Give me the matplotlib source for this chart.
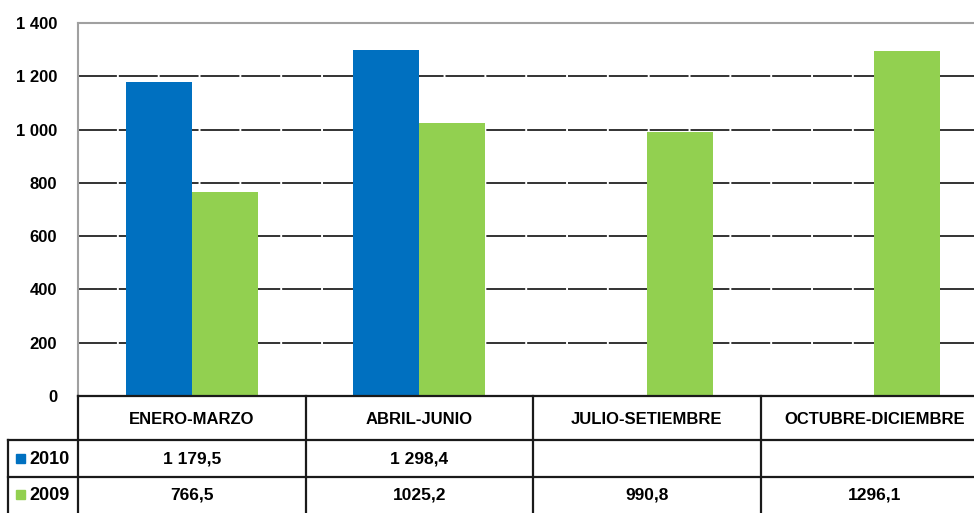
import numpy as np
import matplotlib
matplotlib.use("Agg")
import matplotlib.pyplot as plt
from matplotlib.transforms import blended_transform_factory
from matplotlib.ticker import FuncFormatter

plt.rcParams['font.family'] = ['Liberation Sans', 'DejaVu Sans']
plt.rcParams['font.weight'] = 'bold'

# data
trimestres = ['ENERO-MARZO', 'ABRIL-JUNIO', 'JULIO-SETIEMBRE', 'OCTUBRE-DICIEMBRE']
series = ['2010', '2009']
v2010 = [1179.5, 1298.4, None, None]
v2009 = [766.5, 1025.2, 990.8, 1296.1]
etiq2010 = ['1 179,5', '1 298,4', '', '']
etiq2009 = ['766,5', '1025,2', '990,8', '1296,1']
colores = ['#0070C0', '#92D050']

W, H = 974, 513
fig = plt.figure(figsize=(W / 100, H / 100), dpi=100)
ax = fig.add_axes([78 / W, 1 - 396 / H, 910 / W, 373 / H])

x = np.arange(len(trimestres))
bw = 0.29
y10 = [np.nan if v is None else v for v in v2010]
ax.bar(x - bw / 2, y10, bw, color=colores[0], zorder=3)
ax.bar(x + bw / 2, v2009, bw, color=colores[1], zorder=3)

ax.set_xlim(-0.5, len(trimestres) - 0.5)
ax.set_ylim(0, 1400)
ax.set_yticks(np.arange(0, 1401, 200))
ax.yaxis.set_major_formatter(FuncFormatter(lambda v, p: '{:,.0f}'.format(v).replace(',', ' ')))
ax.tick_params(axis='y', length=0, pad=15, labelsize=12)
ax.set_xticks([])
ax.grid(axis='y', color='#333333', linewidth=1.4, linestyle=(0, (20, 1.0)), zorder=1)
for s in ['right', 'bottom']:
    ax.spines[s].set_visible(False)
ax.spines['top'].set_color('#a0a0a0')
ax.spines['top'].set_linewidth(1.5)
ax.spines['left'].set_color('#a0a0a0')
ax.spines['left'].set_linewidth(1.5)

# tabla de datos debajo del grafico
tab = fig.add_axes([0, 0, 1, 1])
tab.set_xlim(0, W)
tab.set_ylim(H, 0)
tab.axis('off')
tr = blended_transform_factory(ax.transData, tab.transData)

lc = '#1a1a1a'
y_top, y_h, y_r1, y_bot = 396, 440, 477, 520
tab.plot([78, W], [y_top, y_top], color=lc, lw=1.6)
tab.plot([8, W], [y_h, y_h], color=lc, lw=1.6)
tab.plot([8, W], [y_r1, y_r1], color=lc, lw=1.6)
tab.plot([8, 8], [y_h, y_bot], color=lc, lw=1.6)
for i in range(len(trimestres)):
    tab.plot([i - 0.5, i - 0.5], [y_top, y_bot], color=lc, lw=1.6, transform=tr)
    tab.text(i, (y_top + y_h) / 2 + 1, trimestres[i], ha='center', va='center',
             fontsize=12, transform=tr)
    tab.text(i, (y_h + y_r1) / 2 + 1, etiq2010[i], ha='center', va='center',
             fontsize=12.5, transform=tr)
    tab.text(i, (y_r1 + y_bot) / 2 - 3, etiq2009[i], ha='center', va='center',
             fontsize=12.5, transform=tr)

for k, (nombre, yc) in enumerate([(series[0], (y_h + y_r1) / 2), (series[1], (y_r1 + 513) / 2)]):
    tab.add_patch(plt.Rectangle((16, yc - 5), 9, 9, color=colores[k]))
    tab.text(29, yc + 1, nombre, ha='left', va='center', fontsize=13)

fig.savefig('out.png', dpi=100)
